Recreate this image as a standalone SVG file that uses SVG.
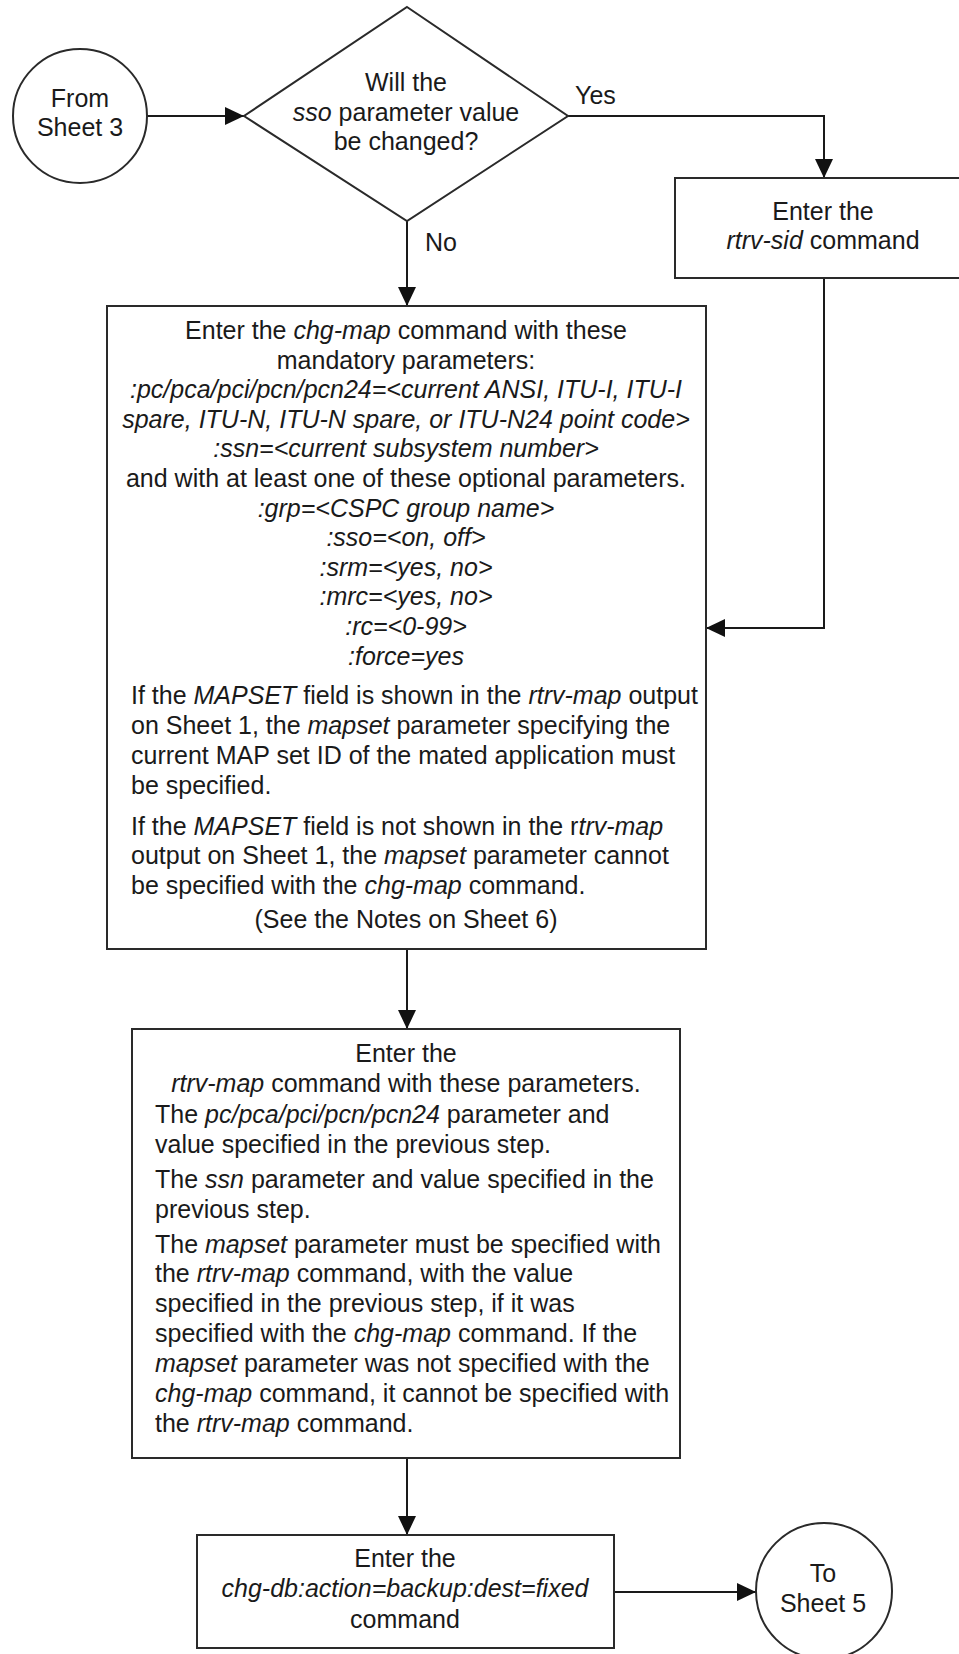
<svg xmlns="http://www.w3.org/2000/svg" width="959" height="1654" viewBox="0 0 959 1654">
<style>
  .shape { fill: #ffffff; stroke: #2a2a2a; stroke-width: 2; }
  .conn { fill: none; stroke: #1a1a1a; stroke-width: 2; }
  text { font-family: "Liberation Sans", Arial, sans-serif; font-size: 25px; fill: #1a1a1a; }
  .c { text-anchor: middle; }
  .i { font-style: italic; }
</style>
<defs>
  <marker id="arrow" markerUnits="userSpaceOnUse" markerWidth="20" markerHeight="18" refX="19" refY="9" orient="auto">
    <path d="M0,0 L19,9 L0,18 Z" fill="#111111"/>
  </marker>
</defs>
<rect width="959" height="1654" fill="#ffffff"/>

<g id="connectors">
  <path class="conn" d="M147,116 H244" marker-end="url(#arrow)"/>
  <path class="conn" d="M568,116 H824 V178" marker-end="url(#arrow)"/>
  <path class="conn" d="M407,221 V306" marker-end="url(#arrow)"/>
  <path class="conn" d="M824,278 V628 H706" marker-end="url(#arrow)"/>
  <path class="conn" d="M407,949 V1029" marker-end="url(#arrow)"/>
  <path class="conn" d="M407,1458 V1535" marker-end="url(#arrow)"/>
  <path class="conn" d="M614,1592 H756" marker-end="url(#arrow)"/>
  <text x="575" y="104">Yes</text>
  <text x="425" y="251">No</text>
</g>

<g id="from-sheet-3">
  <circle class="shape" cx="80" cy="116" r="67"/>
  <text class="c" x="80" y="107">From</text>
  <text class="c" x="80" y="136">Sheet 3</text>
</g>

<g id="decision-sso">
  <polygon class="shape" points="407,7 568,116 407,221 244,116"/>
  <text class="c" x="406" y="91">Will the</text>
  <text class="c" x="406" y="121"><tspan class="i">sso</tspan> parameter value</text>
  <text class="c" x="406" y="150">be changed?</text>
</g>

<g id="rtrv-sid">
  <rect class="shape" x="675" y="178" width="300" height="100"/>
  <text class="c" x="823" y="220">Enter the</text>
  <text class="c" x="823" y="249"><tspan class="i">rtrv-sid</tspan> command</text>
</g>

<g id="chg-map">
  <rect class="shape" x="107" y="306" width="599" height="643"/>
  <text class="c" x="406" y="339">Enter the <tspan class="i">chg-map</tspan> command with these</text>
  <text class="c" x="406" y="369">mandatory parameters:</text>
  <text class="c i" x="406" y="398">:pc/pca/pci/pcn/pcn24=&lt;current ANSI, ITU-I, ITU-I</text>
  <text class="c i" x="406" y="428">spare, ITU-N, ITU-N spare, or ITU-N24 point code&gt;</text>
  <text class="c i" x="406" y="457">:ssn=&lt;current subsystem number&gt;</text>
  <text class="c" x="406" y="487">and with at least one of these optional parameters.</text>
  <text class="c i" x="406" y="517">:grp=&lt;CSPC group name&gt;</text>
  <text class="c i" x="406" y="546">:sso=&lt;on, off&gt;</text>
  <text class="c i" x="406" y="576">:srm=&lt;yes, no&gt;</text>
  <text class="c i" x="406" y="605">:mrc=&lt;yes, no&gt;</text>
  <text class="c i" x="406" y="635">:rc=&lt;0-99&gt;</text>
  <text class="c i" x="406" y="665">:force=yes</text>
  <text x="131" y="704">If the <tspan class="i">MAPSET</tspan> field is shown in the <tspan class="i">rtrv-map</tspan> output</text>
  <text x="131" y="734">on Sheet 1, the <tspan class="i">mapset</tspan> parameter specifying the</text>
  <text x="131" y="764">current MAP set ID of the mated application must</text>
  <text x="131" y="794">be specified.</text>
  <text x="131" y="835">If the <tspan class="i">MAPSET</tspan> field is not shown in the r<tspan class="i">trv-map</tspan></text>
  <text x="131" y="864">output on Sheet 1, the <tspan class="i">mapset</tspan> parameter cannot</text>
  <text x="131" y="894">be specified with the <tspan class="i">chg-map</tspan> command.</text>
  <text class="c" x="406" y="928">(See the Notes on Sheet 6)</text>
</g>

<g id="rtrv-map">
  <rect class="shape" x="132" y="1029" width="548" height="429"/>
  <text class="c" x="406" y="1062">Enter the</text>
  <text class="c" x="406" y="1092"><tspan class="i">rtrv-map</tspan> command with these parameters.</text>
  <text x="155" y="1123">The <tspan class="i">pc/pca/pci/pcn/pcn24</tspan> parameter and</text>
  <text x="155" y="1153">value specified in the previous step.</text>
  <text x="155" y="1188">The <tspan class="i">ssn</tspan> parameter and value specified in the</text>
  <text x="155" y="1218">previous step.</text>
  <text x="155" y="1253">The <tspan class="i">mapset</tspan> parameter must be specified with</text>
  <text x="155" y="1282">the <tspan class="i">rtrv-map</tspan> command, with the value</text>
  <text x="155" y="1312">specified in the previous step, if it was</text>
  <text x="155" y="1342">specified with the <tspan class="i">chg-map</tspan> command. If the</text>
  <text x="155" y="1372"><tspan class="i">mapset</tspan> parameter was not specified with the</text>
  <text x="155" y="1402"><tspan class="i">chg-map</tspan> command, it cannot be specified with</text>
  <text x="155" y="1432">the <tspan class="i">rtrv-map</tspan> command.</text>
</g>

<g id="chg-db">
  <rect class="shape" x="197" y="1535" width="417" height="113"/>
  <text class="c" x="405" y="1567">Enter the</text>
  <text class="c i" x="405" y="1597">chg-db:action=backup:dest=fixed</text>
  <text class="c" x="405" y="1628">command</text>
</g>

<g id="to-sheet-5">
  <circle class="shape" cx="824" cy="1591" r="68"/>
  <text class="c" x="823" y="1582">To</text>
  <text class="c" x="823" y="1612">Sheet 5</text>
</g>
</svg>
